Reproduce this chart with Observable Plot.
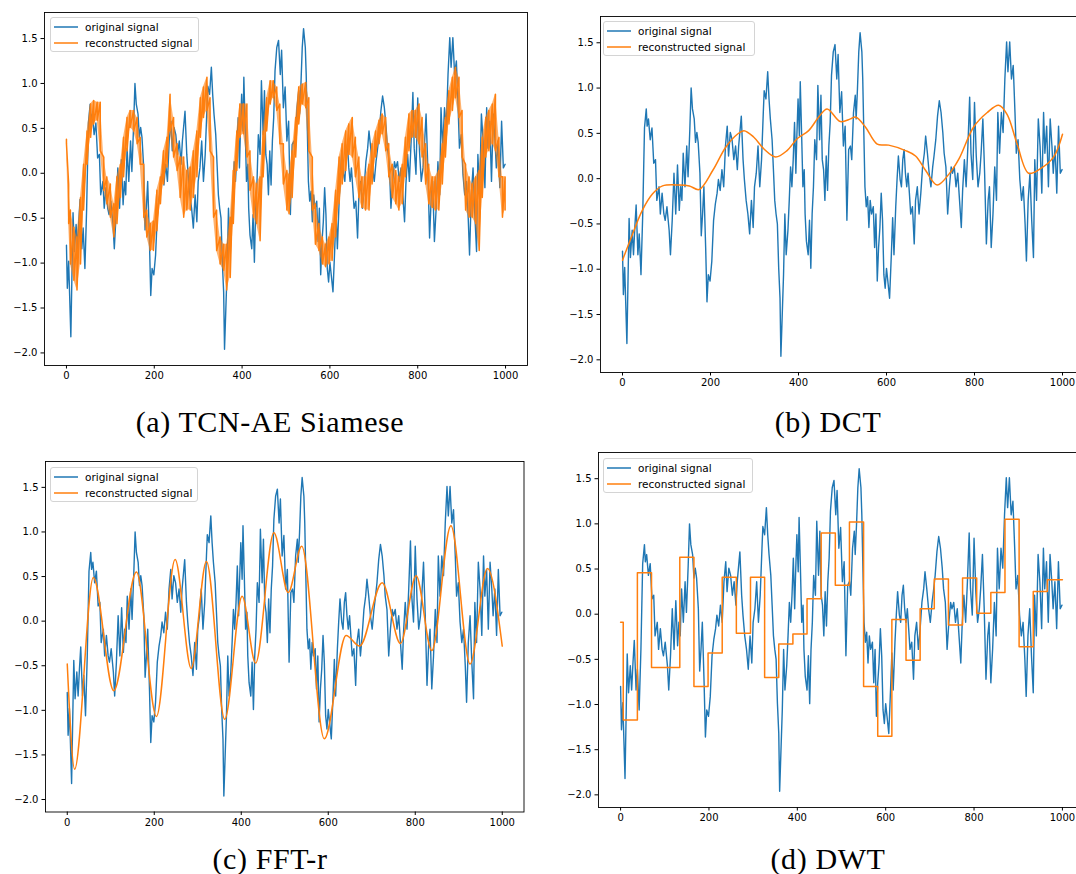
<!DOCTYPE html>
<html><head><meta charset="utf-8">
<script src="https://cdn.jsdelivr.net/npm/d3@7"></script>
<script src="https://cdn.jsdelivr.net/npm/@observablehq/plot@0.6"></script>
<style>
body{margin:0;background:#fff;}
#root{position:relative;width:1076px;height:874px;overflow:hidden;background:#fff;}
.legend{position:absolute;border:1px solid #d4d4d4;border-radius:3px;background:rgba(255,255,255,0.85);font-family:"DejaVu Sans";font-size:10.5px;color:#000;box-sizing:border-box;z-index:5;}
.row{position:absolute;left:3px;height:14px;display:flex;align-items:center;white-space:nowrap;}
.row svg{margin-right:7px;display:block;}
</style></head><body><div id="root"></div>
<script>
// ---------- original signal (shared by all panels) ----------
const sigX = [0,2,5,10,15,18,22,25,28,31,35,38,42,46,50,54,56,59,63,67,71,75,78,83,86,90,94,97,101,106,109,113,117,121,125,129,132,135,138,142,146,149,153,156,159,163,166,169,172,176,179,182,185,189,192,195,199,203,207,211,215,218,222,226,230,234,238,241,245,249,253,257,261,264,270,274,277,281,285,289,293,297,300,304,308,312,316,320,322,326,330,333,336,340,343,346,349,352,355,358,360,363,366,369,372,376,379,382,385,388,391,394,396,399,402,404,407,410,413,415,418,422,425,428,431,434,437,441,444,448,451,454,457,460,463,466,469,472,475,479,483,487,490,494,498,502,
506,510,514,518,521,525,529,531,534,537,540,544,546,548,551,554,557,560,563,566,570,573,576,579,582,585,588,591,594,597,600,603,607,611,614,617,621,624,627,631,634,637,640,643,646,649,652,655,659,663,666,670,674,678,682,686,689,693,697,701,705,708,712,716,720,724,728,731,735,739,743,747,750,754,758,762,766,770,773,777,781,785,789,792,796,800,804,808,812,815,819,823,827,831,834,838,842,846,850,853,857,861,865,869,873,876,880,884,888,892,895,899,903,907,911,915,918,922,926,930,934,937,941,945,949,953,957,960,964,968,972,976,979,983,987,991,995,999];
const sigY = [-0.80,-1.28,-0.98,-1.82,-0.44,-0.87,-0.57,-0.84,-0.54,-0.29,-0.84,-0.61,-1.06,-0.39,0.56,0.77,0.58,0.66,0.43,0.56,0.17,0.21,-0.24,-0.09,-0.39,-0.16,-0.39,-0.46,-0.31,-0.57,-0.84,-0.46,0.06,-0.39,0.15,-0.35,-0.09,-0.24,0.28,-0.09,0.36,0.02,0.54,1.00,0.77,0.66,0.40,0.51,0.40,0.06,-0.63,-0.39,-0.09,-0.76,-1.36,-1.06,-1.13,-0.91,-0.46,-0.28,-0.16,-0.01,-0.13,0.10,-0.09,0.36,0.58,0.25,0.51,0.43,0.21,0.36,0.10,0.36,0.69,0.21,-0.01,-0.24,-0.39,-0.61,-0.24,-0.54,-0.09,0.06,0.36,-0.09,0.21,0.73,0.97,0.88,1.18,0.88,0.66,0.43,0.10,-0.24,-0.39,-0.50,-0.99,-1.32,-1.96,-1.51,-1.06,-0.39,-0.84,-0.57,-0.24,0.13,-0.09,0.21,0.62,0.06,0.43,0.88,0.47,1.07,0.51,-0.09,0.10,-0.39,-0.69,-0.84,-0.46,-0.99,-0.39,-0.09,0.43,0.21,1.03,0.43,0.92,0.21,0.10,-0.24,0.25,-0.13,0.36,0.62,1.14,1.40,1.48,1.10,1.37,0.73,0.96,0.36,
0.58,-0.46,0.32,0.36,0.21,0.73,0.92,0.66,0.99,1.40,1.61,1.40,1.10,0.62,-0.09,-0.31,-0.20,-0.54,-0.24,-0.39,-0.31,-0.76,-0.39,-1.13,-0.76,-0.54,-0.16,-0.46,-1.06,-1.21,-0.99,-1.13,-1.32,-0.84,-0.43,-0.84,-0.31,-0.01,0.25,-0.01,-0.09,0.21,0.32,0.06,-0.09,0.06,-0.16,-0.39,-0.31,-0.72,-0.24,-0.09,-0.39,-0.16,0.13,0.28,0.47,0.28,0.06,-0.09,0.13,0.25,0.43,0.69,0.86,0.73,0.51,0.28,0.13,-0.39,-0.09,0.13,0.06,0.13,-0.09,0.06,-0.24,-0.54,-0.13,0.21,-0.09,0.36,0.90,0.28,-0.01,0.84,0.25,-0.09,0.06,0.28,0.66,0.06,-0.72,-0.24,-0.09,-0.76,-0.39,0.13,-0.24,0.73,0.28,0.73,0.51,1.10,1.51,1.18,1.51,1.10,1.25,0.73,0.28,0.43,-0.01,-0.24,-0.09,-0.50,-0.91,-0.24,0.06,-0.46,-0.87,0.21,-0.24,0.66,0.36,-0.16,0.73,0.28,0.58,-0.09,0.66,0.36,0.06,0.36,-0.16,0.58,0.06,0.10];

// ---------- (a) TCN-AE Siamese reconstruction: upper / lower excursions ----------
const tcnX  = [0,5,9,17,24,32,39,47,55,62,70,77,85,92,100,108,115,123,130,138,145,153,161,168,176,183,191,198,206,214,221,229,236,244,252,259,267,274,282,289,297,305,312,320,327,335,342,350,358,365,373,380,388,395,403,411,418,426,433,441,448,456,464,471,479,486,494,502,507,514,522,529,537,545,552,560,567,575,583,590,598,605,613,621,628,636,643,651,658,666,673,681,689,696,704,712,719,727,734,742,750,757,765,772,780,787,795,803,810,818,825,833,840,848,856,863,871,879,886,894,901,909,917,924,932,940,947,955,962,970,977,985,993,999];
const tcnHi = [0.38,-0.12,-0.41,-0.60,-0.71,-0.27,0.10,0.47,0.77,0.81,0.79,0.79,0.18,-0.04,-0.12,-0.34,-0.04,0.10,0.40,0.62,0.70,0.70,0.62,0.40,0.10,-0.41,-0.56,-0.53,-0.19,-0.04,0.25,0.40,0.88,0.62,0.33,0.18,0.18,0.03,0.07,0.25,0.47,0.84,0.96,1.07,0.84,0.18,-0.41,-0.71,-0.79,-0.79,-0.49,0.03,0.47,0.77,0.77,0.77,0.25,-0.04,-0.12,-0.04,0.47,0.84,1.03,1.03,0.96,0.77,0.33,0.03,-0.01,0.25,0.62,0.96,0.99,1.01,0.84,0.18,-0.34,-0.56,-0.71,-0.79,-0.71,-0.56,-0.19,0.18,0.33,0.47,0.55,0.62,0.40,0.18,-0.04,-0.04,0.10,0.33,0.47,0.59,0.66,0.62,0.33,0.10,0.03,-0.04,0.10,0.40,0.66,0.70,0.70,0.77,0.62,0.33,0.10,-0.04,-0.04,0.03,0.33,0.62,0.92,1.07,1.18,1.07,0.70,0.10,-0.04,-0.12,-0.04,0.03,0.40,0.62,0.70,0.77,0.88,0.40,-0.04,-0.04];
const tcnLo = [0.33,-0.56,-1.01,-1.19,-1.30,-1.01,-0.41,0.10,0.40,0.55,0.59,0.25,-0.19,-0.34,-0.49,-0.71,-0.56,-0.27,-0.04,0.25,0.51,0.47,0.33,0.10,-0.49,-0.71,-0.86,-0.86,-0.64,-0.34,-0.12,0.07,0.47,0.18,0.03,-0.27,-0.49,-0.41,-0.41,-0.27,-0.04,0.40,0.62,0.70,0.25,-0.49,-0.86,-1.01,-1.08,-1.30,-1.16,-0.56,0.03,0.40,0.44,0.18,-0.19,-0.49,-0.56,-0.75,-0.04,0.47,0.77,0.84,0.70,0.33,-0.12,-0.41,-0.45,-0.27,0.18,0.55,0.77,0.73,0.25,-0.41,-0.79,-0.86,-1.01,-1.04,-1.01,-0.97,-0.71,-0.34,-0.12,0.03,0.21,0.18,-0.04,-0.27,-0.38,-0.41,-0.41,-0.12,0.18,0.33,0.44,0.25,-0.04,-0.27,-0.34,-0.41,-0.34,-0.04,0.25,0.40,0.40,0.33,0.18,-0.12,-0.34,-0.38,-0.41,-0.41,-0.12,0.18,0.55,0.70,0.84,0.62,0.18,-0.41,-0.49,-0.49,-0.56,-0.86,-0.27,0.18,0.25,0.33,0.25,-0.04,-0.49,-0.41];

// ---------- (b) DCT reconstruction ----------
const dctX = [0,23,45,68,91,129,152,174,205,235,261,276,298,321,348,374,397,423,446,465,495,518,530,552,579,605,643,666,689,715,742,765,798,829,855,874,897,923,950,980,1000];
const dctY = [-0.90,-0.61,-0.35,-0.17,-0.08,-0.07,-0.08,-0.12,0.09,0.35,0.49,0.53,0.46,0.33,0.24,0.31,0.44,0.53,0.68,0.77,0.63,0.66,0.68,0.57,0.38,0.37,0.31,0.25,0.09,-0.07,0.05,0.22,0.57,0.73,0.81,0.71,0.38,0.06,0.11,0.24,0.49];

// ---------- (c) FFT-r reconstruction (turning points) ----------
const fftX = [0,17,60,107,159,205,248,285,320,362,402,433,475,508,539,591,641,672,724,766,802,838,882,926,966,1000];
const fftY = [-0.48,-1.66,0.49,-0.78,0.55,-1.07,0.69,-0.53,0.67,-1.10,0.28,-0.47,0.99,0.32,0.84,-1.32,-0.16,-0.28,0.43,-0.25,0.51,-0.33,1.07,-0.48,0.59,-0.28];

// ---------- (d) DWT reconstruction (piecewise constant) ----------
const dwtStart = [0,6,38,70,102,134,166,198,230,262,294,326,358,390,422,454,486,518,550,582,614,646,678,710,742,774,806,838,870,902,934,966,1000];
const dwtVal   = [-0.09,-1.17,0.46,-0.59,-0.59,0.63,-0.80,-0.43,0.41,-0.21,0.41,-0.70,-0.33,-0.22,0.17,0.90,0.32,1.02,-0.80,-1.35,-0.06,-0.51,0.06,0.39,-0.12,0.40,0.01,0.24,1.05,-0.36,0.25,0.38,0.38];

const xTicks = [0,200,400,600,800,1000];
const yTicks = [-2.0,-1.5,-1.0,-0.5,0.0,0.5,1.0,1.5];
const captions = ["(a) TCN-AE Siamese","(b) DCT","(c) FFT-r","(d) DWT"];
const legendLabels = ["original signal","reconstructed signal"];

const BLUE = "#1f77b4", ORANGE = "#ff7f0e";
const root = document.getElementById("root");

const sig = sigX.map((x,i)=>({x, y:sigY[i]}));
// noisy TCN trace: runs through each upper and lower excursion in turn
const tcn = tcnX.flatMap((x,i)=>[{x, y:tcnHi[i]},{x, y:tcnLo[i]}]);
const tcnBand = tcnX.map((x,i)=>({x, lo:tcnLo[i], hi:tcnHi[i]}));
const dct = dctX.map((x,i)=>({x, y:dctY[i]}));
const fft = fftX.map((x,i)=>({x, y:fftY[i]}));
const dwt = dwtStart.map((x,i)=>({x, y:dwtVal[i]}));

const sigLine = Plot.line(sig, {x:"x", y:"y", stroke:BLUE, strokeWidth:1.4});

const panels = [
  {left:44, right:527, top:12, bottom:365, leg:[50,17,149], cap:[270,432],
   marks:[sigLine,
     Plot.areaY(tcnBand, {x:"x", y1:"lo", y2:"hi", fill:ORANGE, fillOpacity:0.6}),
     Plot.line(tcn, {x:"x", y:"y", stroke:ORANGE, strokeWidth:1.5})
   ]},
  {left:600, right:1084, top:16, bottom:372, leg:[603,21,152], cap:[828,432],
   marks:[sigLine, Plot.line(dct, {x:"x", y:"y", stroke:ORANGE, strokeWidth:1.5, curve:"catmull-rom"})]},
  {left:45, right:523.5, top:461, bottom:811.5, leg:[50,467,148], cap:[270,869],
   marks:[sigLine, Plot.line(fft, {x:"x", y:"y", stroke:ORANGE, strokeWidth:1.5, curve:"monotone-x"})]},
  {left:598, right:1084, top:452, bottom:807, leg:[603,458,150], cap:[828,869],
   marks:[sigLine, Plot.line(dwt, {x:"x", y:"y", stroke:ORANGE, strokeWidth:1.5, curve:"step-after"})]},
];

const ns="http://www.w3.org/2000/svg";
const ml=45, mt=12, mr=10, mb=30;
panels.forEach((p,k)=>{
  const W = p.right-p.left, H = p.bottom-p.top;
  const chart = Plot.plot({
    width: W+ml+mr, height: H+mt+mb,
    marginLeft: ml, marginTop: mt, marginRight: mr, marginBottom: mb,
    x:{domain:[-50,1050]},
    y:{domain:[-2.14,1.79]},
    style:{fontFamily:"DejaVu Sans", fontSize:"10px", color:"#000", background:"transparent", overflow:"visible"},
    marks:[
      ...p.marks,
      Plot.axisX({ticks:xTicks, tickSize:3.5, tickPadding:3, label:null, tickFormat:d=>String(d)}),
      Plot.axisY({ticks:yTicks, tickSize:3.5, tickPadding:3.5, label:null, tickFormat:d3.format(".1f")}),
      Plot.frame({stroke:"#000", strokeWidth:0.9})
    ]
  });
  chart.style.position="absolute";
  chart.style.left=(p.left-ml)+"px";
  chart.style.top=(p.top-mt)+"px";
  root.appendChild(chart);

  const lg = document.createElement("div");
  lg.className="legend";
  lg.style.left=p.leg[0]+"px"; lg.style.top=p.leg[1]+"px";
  lg.style.width=p.leg[2]+"px"; lg.style.height="35px";
  [BLUE,ORANGE].forEach((c,i)=>{
    const r=document.createElement("div"); r.className="row"; r.style.top=(2+i*16)+"px";
    const s=document.createElementNS(ns,"svg"); s.setAttribute("width",24); s.setAttribute("height",6);
    const l=document.createElementNS(ns,"line");
    l.setAttribute("x1",0); l.setAttribute("x2",24); l.setAttribute("y1",3); l.setAttribute("y2",3);
    l.setAttribute("stroke",c); l.setAttribute("stroke-width",1.5);
    s.appendChild(l);
    const t=document.createElement("span"); t.textContent=legendLabels[i];
    r.appendChild(s); r.appendChild(t); lg.appendChild(r);
  });
  root.appendChild(lg);
});

// captions
const capSvg=document.createElementNS(ns,"svg");
capSvg.setAttribute("width",1076); capSvg.setAttribute("height",874);
capSvg.style.position="absolute"; capSvg.style.left="0"; capSvg.style.top="0"; capSvg.style.pointerEvents="none";
panels.forEach((p,k)=>{
  const t=document.createElementNS(ns,"text");
  t.setAttribute("x",p.cap[0]); t.setAttribute("y",p.cap[1]);
  t.setAttribute("text-anchor","middle");
  t.setAttribute("font-family","Liberation Serif");
  t.setAttribute("font-size","30");
  t.setAttribute("letter-spacing","0.6");
  t.textContent=captions[k];
  capSvg.appendChild(t);
});
root.appendChild(capSvg);
</script></body></html>
